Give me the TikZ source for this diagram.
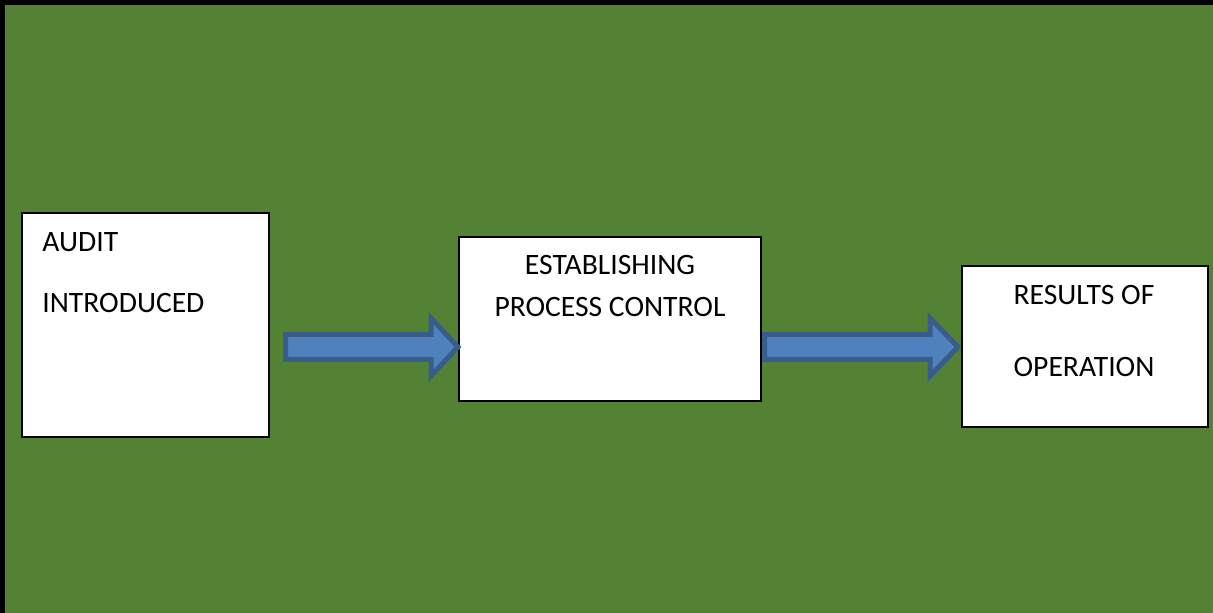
\documentclass[tikz,border=0pt]{standalone}
\usepackage{fontspec}
\setmainfont{Carlito}
\usetikzlibrary{positioning}

\definecolor{bggreen}{RGB}{84,130,53}
\definecolor{arrowfill}{RGB}{79,129,189}
\definecolor{arrowline}{RGB}{56,93,138}

\begin{document}
\begin{tikzpicture}[
  x=0.5pt, y=-0.5pt,
  box/.style={draw, fill=white, line width=0.7pt, inner sep=0pt},
  lbl/.style={inner sep=0pt, font=\fontsize{14.8}{17}\selectfont},
  blockarrow/.style={draw=arrowline, fill=arrowfill, line width=2.5pt, line join=miter}
]
% background
\fill[bggreen] (0,0) rectangle (1213,613);
\useasboundingbox (0,0) rectangle (1213,613);
\draw[line width=2.5pt] (0,2.5) -- (1213,2.5);
\draw[line width=2.5pt] (2.5,0) -- (2.5,613);

% boxes
\node[box, minimum width=123.5pt, minimum height=112pt] (audit) at (145.5,325) {};
\node[box, minimum width=151pt, minimum height=82pt] (estab) at (610,319) {};
\node[box, minimum width=123pt, minimum height=80.5pt] (result) at (1085,346.5) {};

% texts
\node[lbl, anchor=base west] (audit1) at (42,252) {AUDIT};
\node[lbl, anchor=base west] (audit2) at (42,313) {INTRODUCED};
\node[lbl, anchor=base] (estab1) at (610,275) {ESTABLISHING};
\node[lbl, anchor=base] (estab2) at (610,317) {PROCESS CONTROL};
\node[lbl, anchor=base] (result1) at (1084,305) {RESULTS OF};
\node[lbl, anchor=base] (result2) at (1084,377) {OPERATION};

% block arrows
\coordinate (a1e) at (458,347);
\coordinate (a2e) at (958,347);
\draw[blockarrow] (285.5,334.5) -- (431,334.5) -- (431,318) -- (a1e)
  -- (431,376) -- (431,359.5) -- (285.5,359.5) -- cycle;
\draw[blockarrow] (764.5,334.5) -- (930,334.5) -- (930,318) -- (a2e)
  -- (930,376) -- (930,359.5) -- (764.5,359.5) -- cycle;
\end{tikzpicture}
\end{document}
